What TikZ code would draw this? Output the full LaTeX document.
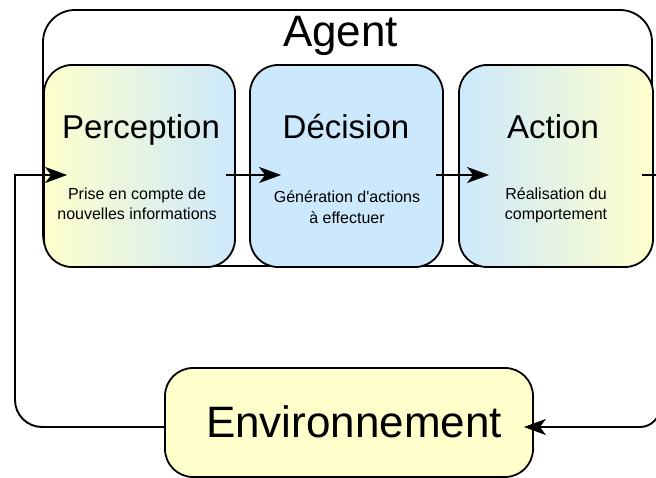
\documentclass[tikz,border=0pt]{standalone}
\usepackage{fontspec}
\setmainfont{Liberation Sans}[Ligatures=TeXOff]
\usetikzlibrary{arrows.meta,calc}
\definecolor{paleyellow}{RGB}{255,255,204}
\definecolor{paleblue}{RGB}{204,232,252}
\tikzset{
  boxstyle/.style={draw=black, line width=1.8pt, rounded corners=28pt, inner sep=0pt},
  titletext/.style={font=\fontsize{33}{36}\selectfont, anchor=base, inner sep=0pt},
  bigtext/.style={font=\fontsize{44}{48}\selectfont, anchor=base, inner sep=0pt},
  subtext/.style={font=\fontsize{16}{20}\selectfont, anchor=base, inner sep=0pt},
  wire/.style={line width=1.9pt},
  link/.style={line width=1.9pt, -{Stealth[length=22pt,width=16pt,inset=6pt]}},
}
\begin{document}
\begin{tikzpicture}[x=1pt,y=-1pt]
\useasboundingbox[fill=white] (0,0) rectangle (656,478);

% Agent container
\node[boxstyle, rounded corners=32pt, minimum width=609pt, minimum height=256pt] (agent) at (347.5,138) {};
\node[bigtext] (agentlbl) at (340.5,47) {Agent};

% Three stage boxes
\node[boxstyle, left color=paleyellow, right color=paleblue, minimum width=191pt, minimum height=202pt] (perc) at (139.5,166) {};
\node[boxstyle, fill=paleblue, minimum width=193pt, minimum height=202pt] (dec) at (346.5,166) {};
\node[boxstyle, left color=paleblue, right color=paleyellow, minimum width=194pt, minimum height=202pt] (act) at (556,166) {};

\node[titletext] (perct) at (141,139) {Perception};
\node[titletext] (dect) at (346,139) {Décision};
\node[titletext] (actt) at (553,139) {Action};

\node[subtext] (percs1) at (137,199.5) {Prise en compte de};
\node[subtext] (percs2) at (137,220) {nouvelles informations};
\node[subtext] (decs1) at (347,203) {Génération d'actions};
\node[subtext] (decs2) at (347,223.5) {à effectuer};
\node[subtext] (acts1) at (556,199.5) {Réalisation du};
\node[subtext] (acts2) at (556,220) {comportement};

% Environment
\node[boxstyle, fill=paleyellow, minimum width=368pt, minimum height=109pt] (env) at (349,422.5) {};
\node[bigtext] (envt) at (354,437) {Environnement};

% Connectors
\coordinate (row) at (0,175);
\coordinate (loopL) at (15,175);
\coordinate (loopR) at (660,175);
\coordinate (envrow) at (0,427);

\draw[wire, rounded corners=27pt, line cap=rect] (env.west |- envrow) -| (loopL);
\draw[link] (loopL) -- ($(perc.west |- row)+(24,0)$);
\draw[link] ($(perc.east |- row)+(-10,0)$) -- ($(dec.west |- row)+(32,0)$);
\draw[link] ($(dec.east |- row)+(-8,0)$) -- ($(act.west |- row)+(31,0)$);
\draw[wire] ($(act.east |- row)+(-12,0)$) -- (loopR);
\draw[link, rounded corners=20pt] (loopR) |- ($(env.east |- envrow)+(-10,0)$);
\end{tikzpicture}
\end{document}
